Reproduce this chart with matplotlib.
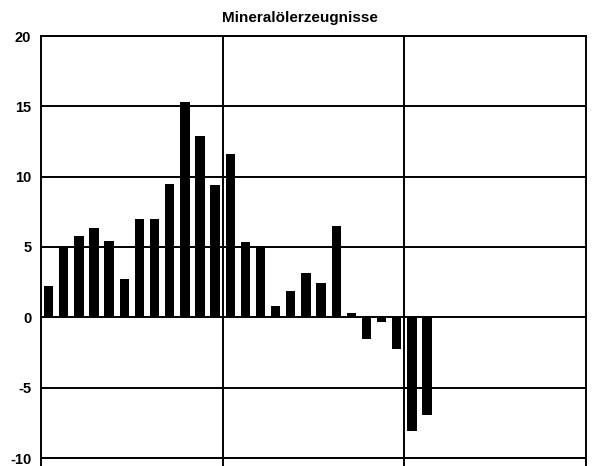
import matplotlib
matplotlib.use("Agg")
import matplotlib.pyplot as plt
import numpy as np

title = "Mineralölerzeugnisse"
values = [2.25, 5.0, 5.75, 6.35, 5.4, 2.7, 7.0, 7.0, 9.45, 15.3, 12.9, 9.4, 11.6,
          5.35, 5.05, 0.8, 1.9, 3.15, 2.45, 6.5, 0.3, -1.55, -0.3, -2.25, -8.05, -6.95]
n_slots = 36
yticks = [-10, -5, 0, 5, 10, 15, 20]
ytick_labels = ["-10", "-5", "0", "5", "10", "15", "20"]

plt.rcParams['font.family'] = ['Liberation Sans', 'DejaVu Sans']

fig = plt.figure(figsize=(5.93, 4.66), dpi=100)
ax = fig.add_axes([41/593, 1 - 458/466, 545/593, 422/466])

x = np.arange(len(values))
ax.bar(x, values, width=0.62, color='black', zorder=3)

ax.set_xlim(-0.5, n_slots - 0.5)
ax.set_ylim(-10, 20)
ax.set_yticks(yticks)
ax.set_yticklabels(ytick_labels, fontsize=10.5, fontweight='bold')
ax.tick_params(axis='y', length=0, pad=7)

sections = [-0.5, 11.5, 23.5, 35.5]
ax.set_xticks(sections)
ax.set_xticklabels([])
ax.tick_params(axis='x', length=7, width=1.4, direction='out', color='black')

for yv in yticks:
    ax.axhline(yv, color='black', lw=1.4, zorder=2)
for xv in sections[1:-1]:
    ax.axvline(xv, color='black', lw=1.4, zorder=2)

for s in ax.spines.values():
    s.set_linewidth(1.4)
    s.set_color('black')

fig.text(300/593, 1 - 18/466, title, ha='center', va='center',
         fontsize=11, fontweight='bold')

fig.savefig("out.png", dpi=100)
